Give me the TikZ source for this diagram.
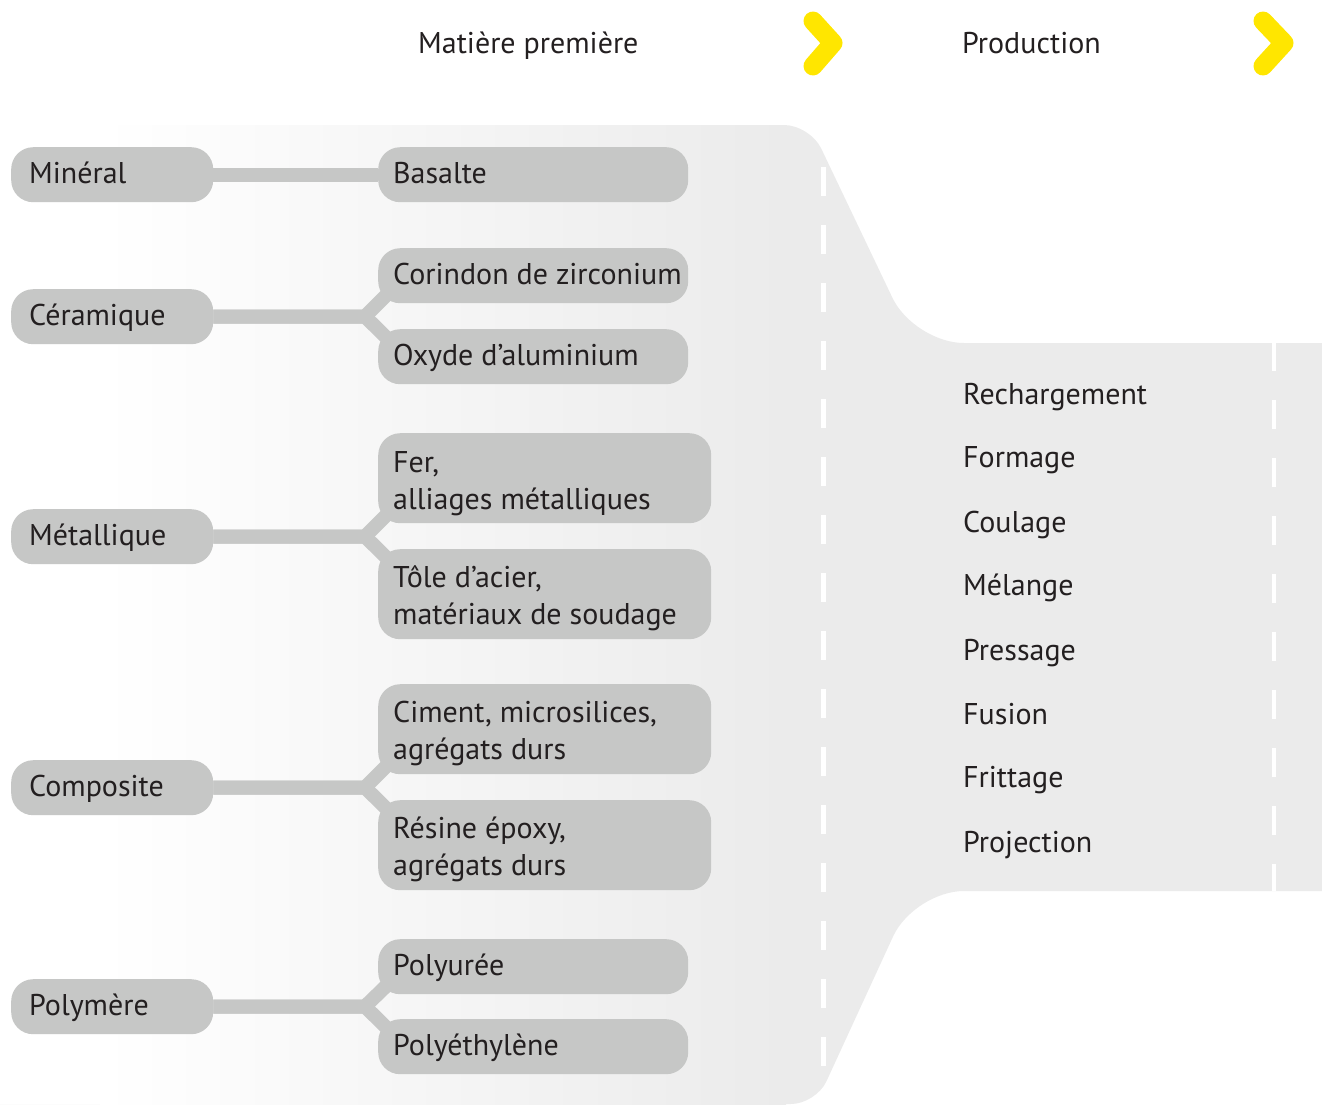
\documentclass[tikz,border=0pt]{standalone}
\usepackage{fontspec}
\setmainfont{PT Sans}
\usetikzlibrary{calc}
\definecolor{boxc}{HTML}{C6C7C6}
\definecolor{bgc}{HTML}{EBEBEB}
\definecolor{txt}{HTML}{231F20}
\definecolor{yel}{HTML}{FFE600}
\pgfdeclarelayer{back}
\pgfdeclarelayer{mid}
\pgfsetlayers{back,mid,main}
\begin{document}
\begin{tikzpicture}[x=1pt,y=-1pt,
  box/.style={fill=boxc, rounded corners=22pt, inner sep=0pt, anchor=north west},
  lbl/.style={text=txt, font=\fontsize{30}{37}\selectfont, inner sep=0pt, anchor=base west, align=left},
  conn/.style={draw=boxc, line width=14pt, miter limit=10},
  chev/.style={draw=yel, line width=19pt, line cap=round, line join=round},
  dashw/.style={draw=white, dash pattern=on 29pt off 29pt}]
\useasboundingbox (0,0) rectangle (1322,1104);
% background funnel
\begin{pgfonlayer}{back}
\fill[bgc] (0,125) [rounded corners=26pt] -- (810,125) [rounded corners=50pt] -- (914,343) [sharp corners] -- (1322,343) -- (1322,891) [rounded corners=50pt] -- (914,891) [rounded corners=25pt] -- (816,1104) [sharp corners] -- (0,1104) -- cycle;
\fill[white] (0,125) rectangle (100,1104);
\shade[left color=white, right color=bgc] (100,125) rectangle (786,1104);
\draw[dashw, line width=5pt] (823,167) -- (823,1066);
\draw[dashw, line width=4.5pt] (1274,342) -- (1274,891);
\end{pgfonlayer}
% headers
\node[lbl] (hMat) at (418,53) {Matière première};
\node[lbl] (hProd) at (962,53) {Production};
\draw[chev] (813,21) -- (833,43) -- (813,66);
\draw[chev] (1263,21) -- (1284,43) -- (1263,66);
% left boxes
\node[box, minimum width=202pt, minimum height=55pt] (bMin) at (11,147) {};
\node[box, minimum width=202pt, minimum height=55pt] (bCer) at (11,289) {};
\node[box, minimum width=202pt, minimum height=55pt] (bMet) at (11,509) {};
\node[box, minimum width=202pt, minimum height=55pt] (bCom) at (11,760) {};
\node[box, minimum width=202pt, minimum height=55pt] (bPol) at (11,979) {};
\node[lbl] (tMin) at (29,183) {Minéral};
\node[lbl] (tCer) at (29,325) {Céramique};
\node[lbl] (tMet) at (29,545) {Métallique};
\node[lbl] (tCom) at (29,796) {Composite};
\node[lbl] (tPol) at (29,1015) {Polymère};
% junctions
\coordinate (jCer) at (365,316.5);
\coordinate (jMet) at (365,536.5);
\coordinate (jCom) at (365,787.5);
\coordinate (jPol) at (365,1006.5);
% right boxes
\node[box, minimum width=310pt, minimum height=55pt] (bBas) at (378,147) {};
\node[box, minimum width=310pt, minimum height=55pt] (bCor) at (378,248) {};
\node[box, minimum width=310pt, minimum height=55pt] (bOxy) at (378,329) {};
\node[box, minimum width=333pt, minimum height=90pt] (bFer) at (378,433) {};
\node[box, minimum width=333pt, minimum height=90pt] (bTol) at (378,549) {};
\node[box, minimum width=333pt, minimum height=90pt] (bCim) at (378,684) {};
\node[box, minimum width=333pt, minimum height=90pt] (bRes) at (378,800) {};
\node[box, minimum width=310pt, minimum height=55pt] (bPu) at (378,939) {};
\node[box, minimum width=310pt, minimum height=55pt] (bPe) at (378,1019) {};
\node[lbl] (tBas) at (393,183) {Basalte};
\node[lbl] (tCor) at (393,284) {Corindon de zirconium};
\node[lbl] (tOxy) at (393,365) {Oxyde d’aluminium};
\node[lbl] (tFer) at (393,509) {Fer,\\alliages métalliques};
\node[lbl] (tTol) at (393,624) {Tôle d’acier,\\matériaux de soudage};
\node[lbl] (tCim) at (393,759) {Ciment, microsilices,\\agrégats durs};
\node[lbl] (tRes) at (393,875) {Résine époxy,\\agrégats durs};
\node[lbl] (tPu) at (393,975) {Polyurée};
\node[lbl] (tPe) at (393,1055) {Polyéthylène};
% connectors (behind boxes)
\begin{pgfonlayer}{mid}
\draw[conn] (bMin.east) -- (bBas.west);
\draw[conn] (bCer.east) -- (jCer) -- ($(bCor.south west)+(16,-16)$);
\draw[conn] (bCer.east) -- (jCer) -- ($(bOxy.north west)+(16,16)$);
\draw[conn] (bMet.east) -- (jMet) -- ($(bFer.south west)+(16,-16)$);
\draw[conn] (bMet.east) -- (jMet) -- ($(bTol.north west)+(16,16)$);
\draw[conn] (bCom.east) -- (jCom) -- ($(bCim.south west)+(16,-16)$);
\draw[conn] (bCom.east) -- (jCom) -- ($(bRes.north west)+(16,16)$);
\draw[conn] (bPol.east) -- (jPol) -- ($(bPu.south west)+(16,-16)$);
\draw[conn] (bPol.east) -- (jPol) -- ($(bPe.north west)+(16,16)$);
\end{pgfonlayer}
% production steps
\node[lbl] (p1) at (963,404) {Rechargement};
\node[lbl] (p2) at (963,467) {Formage};
\node[lbl] (p3) at (963,532) {Coulage};
\node[lbl] (p4) at (963,595) {Mélange};
\node[lbl] (p5) at (963,660) {Pressage};
\node[lbl] (p6) at (963,724) {Fusion};
\node[lbl] (p7) at (963,787) {Frittage};
\node[lbl] (p8) at (963,852) {Projection};
\end{tikzpicture}
\end{document}
